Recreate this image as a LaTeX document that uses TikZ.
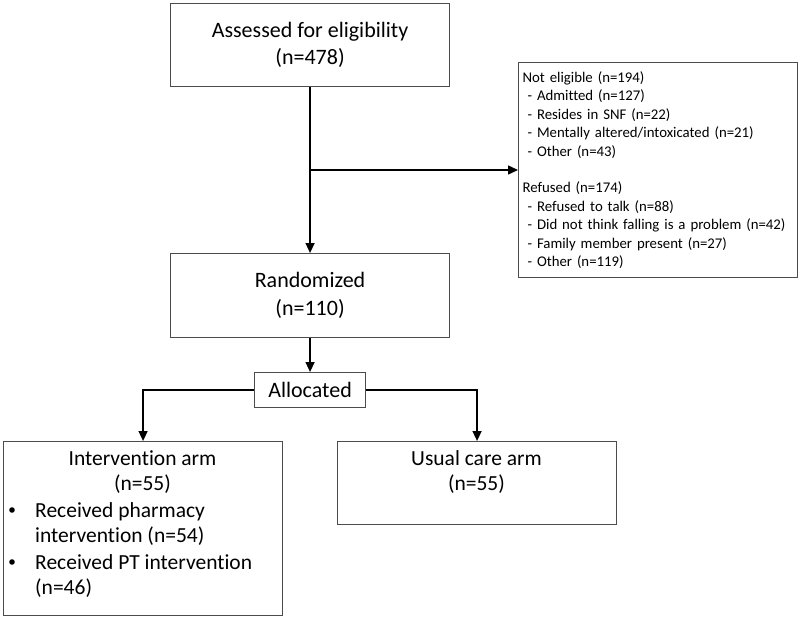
\documentclass[tikz,border=0pt]{standalone}
\usepackage{fontspec}
\setmainfont{Carlito}[RawFeature=-liga]
\usetikzlibrary{arrows.meta}
\begin{document}
\begin{tikzpicture}[x=1pt,y=-1pt,
  box/.style={draw=black!70, line width=1.1pt, inner sep=0pt},
  arr/.style={line width=1.4pt, -{Triangle[length=10pt,width=9pt]}},
  big/.style={font=\fontsize{22}{27.5}\selectfont, align=center},
  med/.style={font=\fontsize{21.5}{25.5}\selectfont, inner sep=0pt},
  small/.style={font=\fontsize{14.8}{18.4}\selectfont}]
\useasboundingbox (0,0) rectangle (800,618);
\node[box, big, minimum width=279, minimum height=83, anchor=north west] (assess) at (170,3) {Assessed for eligibility\\(n=478)};
\node[box, big, minimum width=279, minimum height=84, anchor=north west] (rand) at (170,253) {Randomized\\(n=110)};
\node[box, small, minimum width=279, minimum height=215, inner xsep=4pt, text width=271, align=left, anchor=north west] (excl) at (518,62) {Not eligible (n=194)\\
\hspace*{5pt}- Admitted (n=127)\\
\hspace*{5pt}- Resides in SNF (n=22)\\
\hspace*{5pt}- Mentally altered/intoxicated (n=21)\\
\hspace*{5pt}- Other (n=43)\\[18.4pt]
Refused (n=174)\\
\hspace*{5pt}- Refused to talk (n=88)\\
\hspace*{5pt}- Did not think falling is a problem (n=42)\\
\hspace*{5pt}- Family member present (n=27)\\
\hspace*{5pt}- Other (n=119)};
\node[box, big, minimum width=111, minimum height=35, anchor=north west] (alloc) at (254,372) {Allocated};
\node[box, minimum width=279, minimum height=174, anchor=north west] (interv) at (3,441) {};
\node[box, minimum width=279, minimum height=83, anchor=north west] (usual) at (337,441) {};
% intervention text
\node[med, anchor=base] (it1) at (142.5,465) {Intervention arm};
\node[med, anchor=base] (it2) at (142.5,490) {(n=55)};
\node[med, anchor=base west] (it3) at (35,517) {Received pharmacy};
\node[med, anchor=base west] (it4) at (35,542) {intervention (n=54)};
\node[med, anchor=base west] (it5) at (35,569) {Received PT intervention};
\node[med, anchor=base west] (it6) at (35,594) {(n=46)};
\fill (12,510) circle (2.8);
\fill (12,562) circle (2.8);
% usual care text
\node[med, anchor=base] (ut1) at (476.5,465) {Usual care arm};
\node[med, anchor=base] (ut2) at (476.5,490) {(n=55)};
% connectors
\draw[arr] (assess) -- (rand);
\coordinate (br) at (309.5,170);
\draw[arr] (br) -- (br -| excl.west);
\draw[arr] (rand) -- (alloc);
\draw[arr] (alloc.west) -| (interv.north);
\draw[arr] (alloc.east) -| (usual.north);
\end{tikzpicture}
\end{document}
